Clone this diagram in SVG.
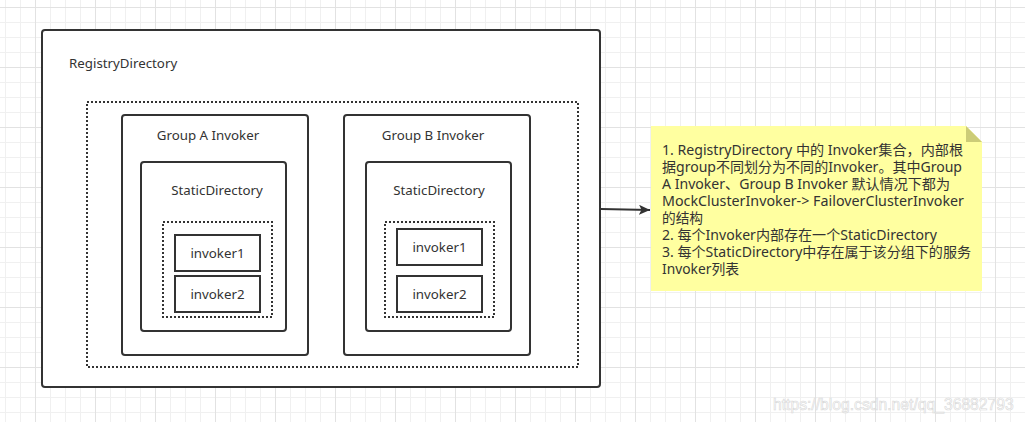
<svg xmlns="http://www.w3.org/2000/svg" width="1025" height="422" viewBox="0 0 1025 422">
<defs>
<pattern id="minor" width="15" height="15" patternUnits="userSpaceOnUse" x="5" y="7">
<path d="M0 0.5H15M0.5 0V15" fill="none" stroke="#f0f0f0" stroke-width="1"/>
</pattern>
<pattern id="major" width="60" height="60" patternUnits="userSpaceOnUse" x="35" y="7">
<path d="M0 0.5H60M0.5 0V60" fill="none" stroke="#e2e2e2" stroke-width="1"/>
</pattern>
<marker id="arrow" markerWidth="12" markerHeight="10" refX="11" refY="5" orient="auto" markerUnits="userSpaceOnUse">
<path d="M0 0L11 5L0 10L2.5 5Z" fill="#333"/>
</marker>
</defs>
<style>
.box{fill:#fff;stroke:#333;stroke-width:2}
.dot{fill:none;stroke:#333;stroke-width:2;stroke-dasharray:2 2}
.t{font-family:"Noto Sans","Noto Sans CJK SC",sans-serif;font-size:13.3px;fill:#333}
.c{text-anchor:middle}
.n{font-family:"Noto Sans","Noto Sans CJK SC",sans-serif;font-size:14px;fill:#333}
.wm{font-family:"Liberation Sans",sans-serif;font-size:15.7px;fill:#fff;stroke:#d8d8d8;stroke-width:0.6}
</style>
<rect width="1025" height="422" fill="#fff"/>
<rect width="1025" height="422" fill="url(#minor)"/>
<rect width="1025" height="422" fill="url(#major)"/>

<g id="registry-directory">
<rect class="box" x="42" y="30" width="558" height="357" rx="3"/>
<text class="t" x="69" y="68">RegistryDirectory</text>
</g>
<g id="invoker-set">
<rect class="dot" x="87" y="102" width="491" height="265"/>
</g>

<g id="group-a">
<rect class="box" x="122" y="115" width="186" height="240" rx="3"/>
<text class="t c" x="208" y="140">Group A Invoker</text>
</g>
<g id="static-directory-a">
<rect class="box" x="141" y="162" width="145" height="169" rx="3"/>
<text class="t c" x="217" y="195">StaticDirectory</text>
</g>
<g id="invoker-list-a">
<rect class="dot" x="163" y="222" width="109" height="95"/>
</g>
<g id="a-invoker1">
<rect class="box" x="175" y="235" width="85" height="36"/>
<text class="t c" x="217.5" y="258">invoker1</text>
</g>
<g id="a-invoker2">
<rect class="box" x="175" y="276" width="85" height="36"/>
<text class="t c" x="217.5" y="299">invoker2</text>
</g>

<g id="group-b">
<rect class="box" x="344" y="115" width="186" height="240" rx="3"/>
<text class="t c" x="433" y="140">Group B Invoker</text>
</g>
<g id="static-directory-b">
<rect class="box" x="366" y="162" width="145" height="169" rx="3"/>
<text class="t c" x="439" y="195">StaticDirectory</text>
</g>
<g id="invoker-list-b">
<rect class="dot" x="385" y="222" width="109" height="95"/>
</g>
<g id="b-invoker1">
<rect class="box" x="397" y="229" width="85" height="36"/>
<text class="t c" x="439.5" y="252">invoker1</text>
</g>
<g id="b-invoker2">
<rect class="box" x="397" y="276" width="85" height="36"/>
<text class="t c" x="439.5" y="299">invoker2</text>
</g>

<g id="connectors">
<path d="M601 209L650 210" fill="none" stroke="#333" stroke-width="2" marker-end="url(#arrow)"/>
</g>

<g id="note">
<path d="M651 126H966L982 142V291H651Z" fill="#ffffa0"/>
<path d="M966 126V142H982Z" fill="#cccc77"/>
<text class="n" x="662" y="155" textLength="301" lengthAdjust="spacingAndGlyphs">1. RegistryDirectory 中的 Invoker集合，内部根</text>
<text class="n" x="662" y="172" textLength="300" lengthAdjust="spacingAndGlyphs">据group不同划分为不同的Invoker。其中Group</text>
<text class="n" x="662" y="189" textLength="288" lengthAdjust="spacingAndGlyphs">A Invoker、Group B Invoker 默认情况下都为</text>
<text class="n" x="662" y="206" textLength="302" lengthAdjust="spacingAndGlyphs">MockClusterInvoker-&gt; FailoverClusterInvoker</text>
<text class="n" x="662" y="223" textLength="41" lengthAdjust="spacingAndGlyphs">的结构</text>
<text class="n" x="662" y="240" textLength="275" lengthAdjust="spacingAndGlyphs">2. 每个Invoker内部存在一个StaticDirectory</text>
<text class="n" x="662" y="257" textLength="309" lengthAdjust="spacingAndGlyphs">3. 每个StaticDirectory中存在属于该分组下的服务</text>
<text class="n" x="662" y="274" textLength="77" lengthAdjust="spacingAndGlyphs">Invoker列表</text>
</g>

<text class="wm" x="773" y="410">https://blog.csdn.net/qq_36882793</text>
</svg>
